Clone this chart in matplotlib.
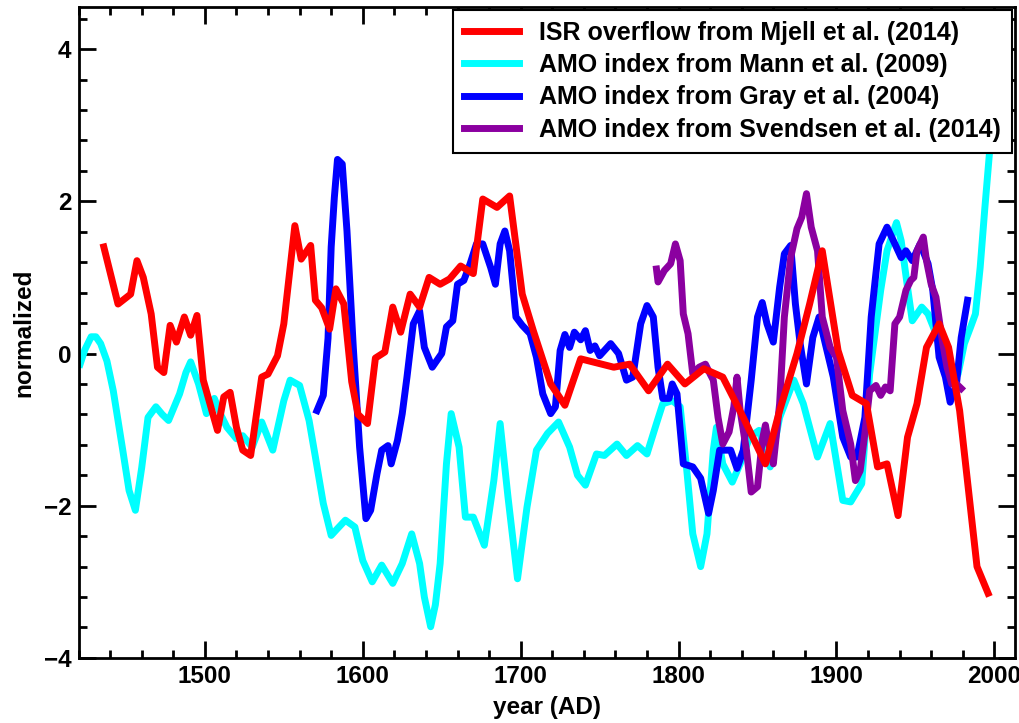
import matplotlib
matplotlib.use("Agg")
import matplotlib.pyplot as plt
from matplotlib.ticker import MultipleLocator

plt.rcParams['font.family'] = ['Liberation Sans', 'DejaVu Sans']
plt.rcParams['font.weight'] = 'bold'

# ISR overflow, Mjell et al. (2014)
mjell_year = [1436, 1445, 1453, 1457, 1461, 1466, 1470, 1474, 1478, 1482, 1487, 1491,
              1495, 1499, 1508, 1512, 1516, 1520, 1524, 1529, 1536, 1540, 1546, 1550,
              1557, 1561, 1567, 1570, 1574, 1579, 1583, 1588, 1593, 1597, 1603, 1608,
              1614, 1619, 1624, 1630, 1636, 1642, 1649, 1655, 1662, 1670, 1676, 1685,
              1693, 1701, 1708, 1719, 1728, 1738, 1759, 1769, 1781, 1793, 1804, 1816,
              1828, 1841, 1855, 1864, 1875, 1883, 1891, 1901, 1910, 1919, 1926, 1932,
              1939, 1945, 1951, 1957, 1965, 1971, 1978, 1989, 1996]
mjell_val = [1.40, 0.65, 0.78, 1.22, 1.00, 0.52, -0.18, -0.25, 0.37, 0.15, 0.48, 0.24,
             0.50, -0.35, -1.01, -0.57, -0.51, -0.97, -1.27, -1.34, -0.31, -0.27, -0.03, 0.39,
             1.68, 1.24, 1.42, 0.70, 0.60, 0.32, 0.85, 0.65, -0.37, -0.80, -0.92, -0.06,
             0.02, 0.61, 0.28, 0.78, 0.61, 1.00, 0.91, 0.98, 1.15, 1.05, 2.03, 1.92,
             2.07, 0.78, 0.30, -0.40, -0.68, -0.07, -0.18, -0.14, -0.49, -0.14, -0.40, -0.20,
             -0.31, -0.84, -1.45, -0.75, 0.00, 0.65, 1.35, 0.04, -0.55, -0.66, -1.49, -1.45,
             -2.13, -1.10, -0.66, 0.08, 0.39, 0.08, -0.75, -2.80, -3.15]

# AMO index, Mann et al. (2009)
mann_year = [1421, 1424, 1428, 1431, 1434, 1438, 1442, 1448, 1452, 1456, 1460, 1464,
             1469, 1473, 1477, 1484, 1488, 1491, 1496, 1501, 1506, 1510, 1514, 1520,
             1524, 1530, 1536, 1543, 1550, 1554, 1560, 1566, 1570, 1575, 1580, 1584,
             1589, 1595, 1600, 1606, 1612, 1619, 1625, 1631, 1636, 1639, 1643, 1646,
             1649, 1653, 1656, 1661, 1665, 1670, 1677, 1683, 1687, 1692, 1698, 1704,
             1710, 1717, 1724, 1731, 1736, 1741, 1748, 1753, 1761, 1767, 1774, 1780,
             1786, 1790, 1796, 1801, 1805, 1809, 1814, 1818, 1822, 1824, 1828, 1834,
             1839, 1845, 1851, 1858, 1864, 1873, 1879, 1888, 1896, 1904, 1909, 1916,
             1921, 1928, 1932, 1938, 1941, 1945, 1948, 1954, 1958, 1963, 1968, 1974,
             1977, 1981, 1985, 1988, 1991, 1994, 1997, 1999]
mann_val = [-0.14, 0.05, 0.22, 0.22, 0.13, -0.10, -0.49, -1.27, -1.80, -2.06, -1.50, -0.84,
            -0.70, -0.80, -0.88, -0.53, -0.25, -0.11, -0.40, -0.79, -0.59, -0.80, -0.97, -1.12,
            -1.08, -1.23, -0.90, -1.27, -0.62, -0.35, -0.42, -0.88, -1.36, -1.97, -2.39, -2.30,
            -2.19, -2.28, -2.72, -3.00, -2.78, -3.02, -2.76, -2.37, -2.76, -3.20, -3.59, -3.30,
            -2.76, -1.45, -0.79, -1.23, -2.15, -2.15, -2.52, -1.67, -0.92, -1.89, -2.96, -2.02,
            -1.27, -1.05, -0.90, -1.23, -1.60, -1.73, -1.32, -1.34, -1.19, -1.34, -1.21, -1.32,
            -0.92, -0.66, -0.62, -0.70, -1.49, -2.37, -2.80, -2.37, -1.27, -0.97, -1.45, -1.69,
            -1.45, -1.10, -1.01, -1.49, -0.84, -0.35, -0.66, -1.36, -0.92, -1.93, -1.95, -1.71,
            -0.27, 0.83, 1.35, 1.72, 1.48, 0.87, 0.43, 0.61, 0.52, 0.26, -0.09, -0.35,
            -0.27, 0.13, 0.35, 0.52, 1.13, 1.92, 2.66, 3.00]

# AMO index, Gray et al. (2004)
gray_year = [1571, 1575, 1578, 1580, 1582, 1584, 1587, 1590, 1594, 1598, 1602, 1605,
             1609, 1612, 1616, 1618, 1622, 1625, 1628, 1632, 1636, 1639, 1644, 1647,
             1650, 1653, 1657, 1660, 1664, 1668, 1672, 1676, 1681, 1684, 1687, 1690,
             1693, 1697, 1701, 1706, 1710, 1714, 1719, 1722, 1725, 1728, 1731, 1734,
             1738, 1741, 1744, 1747, 1750, 1757, 1762, 1767, 1771, 1776, 1780, 1784,
             1787, 1790, 1794, 1796, 1799, 1803, 1809, 1814, 1819, 1822, 1826, 1833,
             1837, 1841, 1846, 1850, 1853, 1856, 1860, 1864, 1867, 1871, 1874, 1877,
             1881, 1885, 1889, 1892, 1898, 1904, 1909, 1913, 1918, 1922, 1927, 1932,
             1937, 1941, 1944, 1948, 1953, 1958, 1961, 1965, 1969, 1972, 1976, 1979,
             1983]
gray_val = [-0.75, -0.55, 0.20, 1.40, 2.05, 2.55, 2.49, 1.61, 0.08, -1.23, -2.17, -2.06,
            -1.58, -1.27, -1.21, -1.45, -1.14, -0.79, -0.31, 0.39, 0.56, 0.08, -0.18, -0.09,
            0.00, 0.35, 0.43, 0.91, 0.96, 1.18, 1.44, 1.44, 1.13, 0.91, 1.44, 1.61,
            1.35, 0.48, 0.37, 0.26, -0.05, -0.53, -0.79, -0.70, 0.04, 0.25, 0.08, 0.28,
            0.18, 0.30, 0.04, 0.10, -0.03, 0.13, 0.00, -0.35, -0.31, 0.39, 0.63, 0.48,
            -0.18, -0.59, -0.59, -0.40, -0.53, -1.45, -1.49, -1.64, -2.10, -1.80, -1.27, -1.27,
            -1.51, -1.27, -0.35, 0.48, 0.67, 0.39, 0.15, 0.87, 1.31, 1.42, 0.65, 0.13,
            -0.40, 0.21, 0.48, 0.21, -0.31, -1.10, -1.36, -1.36, -0.84, 0.48, 1.44, 1.66,
            1.44, 1.26, 1.35, 1.22, 1.44, 1.18, 0.83, -0.05, -0.31, -0.64, -0.40, 0.21,
            0.70]

# AMO index, Svendsen et al. (2014)
svendsen_year = [1786, 1787, 1791, 1795, 1798, 1801, 1803, 1806, 1809, 1813, 1817, 1820,
                 1822, 1825, 1828, 1832, 1835, 1837, 1839, 1843, 1846, 1850, 1853, 1855,
                 1857, 1860, 1864, 1867, 1871, 1875, 1878, 1881, 1884, 1888, 1891, 1896,
                 1900, 1904, 1909, 1912, 1915, 1918, 1921, 1925, 1928, 1931, 1934, 1937,
                 1940, 1944, 1947, 1949, 1951, 1955, 1957, 1960, 1963, 1967, 1970, 1973,
                 1976, 1979]
svendsen_val = [1.11, 0.94, 1.09, 1.18, 1.44, 1.22, 0.52, 0.26, -0.27, -0.18, -0.14, -0.27,
                -0.35, -0.84, -1.19, -1.03, -0.70, -0.31, -0.75, -1.27, -1.82, -1.75, -1.14, -0.94,
                -1.19, -1.45, -0.66, 0.48, 1.26, 1.64, 1.79, 2.10, 1.66, 1.35, 0.48, 0.08,
                -0.05, -0.75, -1.19, -1.67, -1.54, -1.05, -0.49, -0.42, -0.55, -0.44, -0.49, 0.39,
                0.48, 0.83, 0.96, 1.00, 1.35, 1.53, 1.22, 0.91, 0.74, 0.17, -0.18, -0.40,
                -0.40, -0.46]

labels = ['ISR overflow from Mjell et al. (2014)',
          'AMO index from Mann et al. (2009)',
          'AMO index from Gray et al. (2004)',
          'AMO index from Svendsen et al. (2014)']


fig = plt.figure(figsize=(10.2, 7.23), dpi=100)
ax = fig.add_axes([0.077, 0.090, 0.918, 0.900])

lw = 5
ax.plot(mjell_year, mjell_val, color='#ff0000', lw=lw, label=labels[0], zorder=5)
ax.plot(mann_year, mann_val, color='#00ffff', lw=lw, label=labels[1], zorder=2)
ax.plot(gray_year, gray_val, color='#0000ff', lw=lw, label=labels[2], zorder=3)
ax.plot(svendsen_year, svendsen_val, color='#8b00a0', lw=lw, label=labels[3], zorder=4)

ax.set_xlim(1420, 2013)
ax.set_ylim(-4, 4.55)
ax.xaxis.set_major_locator(MultipleLocator(100))
ax.xaxis.set_minor_locator(MultipleLocator(20))
ax.yaxis.set_major_locator(MultipleLocator(2))
ax.yaxis.set_minor_locator(MultipleLocator(0.4))

fs = 17.5
ax.tick_params(which='both', direction='in', top=True, right=True, width=2)
ax.tick_params(which='major', length=12, labelsize=fs)
ax.tick_params(axis='x', which='major', pad=5)
ax.tick_params(axis='y', which='major', pad=5)
ax.tick_params(which='minor', length=6)
for s in ax.spines.values():
    s.set_linewidth(2)

for lab in ax.get_xticklabels() + ax.get_yticklabels():
    lab.set_fontweight('bold')

ax.set_xlabel('year (AD)', fontsize=fs, fontweight='bold', labelpad=6)
ax.set_ylabel('normalized', fontsize=fs, fontweight='bold', labelpad=6)

leg = ax.legend(loc='upper right', fontsize=18, frameon=True, fancybox=False,
                framealpha=1, edgecolor='black', handlelength=2.2, handletextpad=0.8,
                borderpad=0.45, labelspacing=0.33, borderaxespad=0.1)
leg.get_frame().set_linewidth(1.5)
for t in leg.get_texts():
    t.set_fontweight('bold')
leg.set_zorder(10)

fig.savefig('out.png', dpi=100)
